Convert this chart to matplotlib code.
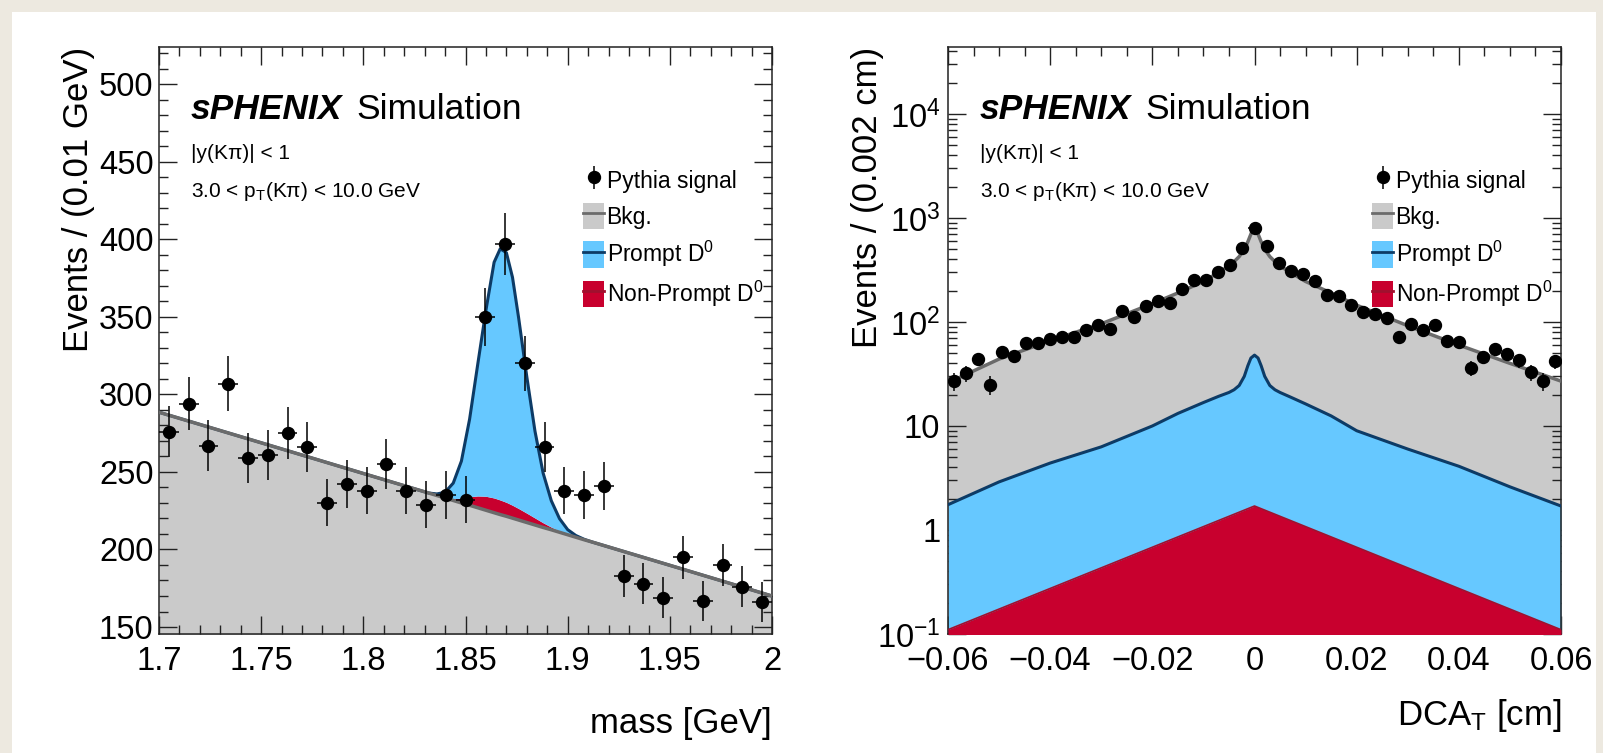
import numpy as np
import matplotlib
matplotlib.use("Agg")
import matplotlib.pyplot as plt
from matplotlib.patches import Patch, Rectangle
from matplotlib.lines import Line2D
from matplotlib.legend_handler import HandlerTuple
from matplotlib.ticker import MultipleLocator, FuncFormatter, LogLocator, NullFormatter

plt.rcParams['font.family'] = ['Liberation Sans', 'DejaVu Sans']
plt.rcParams['mathtext.fontset'] = 'custom'
plt.rcParams['mathtext.rm'] = 'Liberation Sans'
plt.rcParams['mathtext.it'] = 'Liberation Sans:italic'
plt.rcParams['mathtext.bf'] = 'Liberation Sans:bold'
plt.rcParams['mathtext.default'] = 'regular'

#------------------------------------------------------------------------------
# Data: invariant mass panel
#------------------------------------------------------------------------------
mass_range = (1.7, 2.0)
mass_counts = [276, 294, 267, 307, 259, 261, 275, 266, 230, 242, 238, 255, 238, 229, 235, 232,
               350, 397, 320, 266, 238, 235, 241, 183, 178, 169, 195, 167, 190, 176, 166]

mass_curve = [1.700, 1.750, 1.800, 1.832, 1.836, 1.840, 1.844, 1.848, 1.852, 1.856, 1.860, 1.864,
              1.867, 1.870, 1.873, 1.876, 1.880, 1.884, 1.888, 1.892, 1.896, 1.900, 1.904, 1.908,
              1.912, 1.950, 2.000]
mass_bkg = [288.5, 268.8, 249.0, 236.4, 234.8, 233.2, 231.6, 230.0, 228.5, 226.9, 225.3, 223.7,
            222.5, 221.4, 220.2, 219.0, 217.4, 215.8, 214.2, 212.7, 211.1, 209.5, 207.9, 206.3,
            204.8, 189.8, 170.0]
mass_nonprompt = [0, 0, 0, 0, 0, 0.2, 1.2, 3.0, 5.5, 7.6, 9.0, 9.5,
                  9.4, 9.0, 8.3, 7.4, 6.0, 4.5, 3.0, 1.7, 0.8, 0.3, 0.1, 0,
                  0, 0, 0]
mass_prompt = [0, 0, 0, 0, 1, 3.5, 10, 24, 50, 85, 120, 152,
               162, 161, 147, 123, 88, 56, 32, 17, 8, 3, 1, 0.3,
               0, 0, 0]

#------------------------------------------------------------------------------
# Data: DCA_T panel
#------------------------------------------------------------------------------
dca_range = (-0.06, 0.06)
dca_counts = [27, 32, 44, 25, 51, 47, 63, 63, 68, 71, 71, 84, 94, 86, 127, 111, 141, 160, 152, 207,
              253, 253, 303, 352, 515, 796, 537, 367, 306, 287, 245, 182, 176, 144, 125, 120, 108,
              71, 96, 83, 93, 66, 64, 36, 46, 55, 49, 43, 33, 27, 42]

dca_curve = [-0.06, -0.05, -0.04, -0.03, -0.02, -0.015, -0.01, -0.007, -0.005, -0.004, -0.003,
             -0.002, -0.0013, -0.0007, 0.0, 0.0007, 0.0013, 0.002, 0.003, 0.004, 0.005, 0.007,
             0.01, 0.015, 0.02, 0.03, 0.04, 0.05, 0.06]
dca_total = [26, 44, 66, 96, 150, 190, 245, 300, 345, 380, 425,
             500, 590, 700, 830, 700, 590, 500, 425, 380, 345, 300,
             245, 190, 145, 92, 60, 40, 27]
dca_prompt = [1.75, 2.9, 4.4, 6.3, 10, 13.2, 16.8, 19.3, 21, 22.3, 24.5,
              30, 38, 45, 48, 45, 38, 30, 24.5, 22.3, 21, 19,
              16.3, 12.5, 9, 6, 4.1, 2.6, 1.7]
dca_np_x = [-0.06, 0.0, 0.06]
dca_nonprompt = [0.11, 1.7, 0.11]

# colours
c_gray, c_gray_line = '#CACACA', '#6B6B6B'
c_blue, c_navy = '#66C8FF', '#0D3B66'
c_red, c_red_line = '#C8002E', '#A0102E'

#------------------------------------------------------------------------------
# Figure
#------------------------------------------------------------------------------
W, H = 1603, 753
fig = plt.figure(figsize=(W / 100, H / 100), dpi=100)
fig.patch.set_facecolor('#EDE9E0')
fig.add_artist(Rectangle((12 / W, 0), (1596 - 12) / W, (H - 12) / H, transform=fig.transFigure,
                         facecolor='white', edgecolor='none', zorder=-5))

ax1 = fig.add_axes([159 / W, 1 - 634 / H, 613 / W, 587 / H])
ax2 = fig.add_axes([948 / W, 1 - 634 / H, 613 / W, 587 / H])

def style_axes(ax):
    for s in ax.spines.values():
        s.set_linewidth(1.1)
        s.set_color('#222222')
    ax.tick_params(which='both', direction='in', top=True, right=True, width=1.0,
                   color='#222222', labelsize=23.5)
    ax.tick_params(which='major', length=13)
    ax.tick_params(which='minor', length=6.5)
    ax.tick_params(axis='x', pad=9)
    ax.tick_params(axis='y', pad=4)

def draw_data(ax, edges, counts):
    centers = 0.5 * (edges[1:] + edges[:-1])
    half = 0.5 * (edges[1] - edges[0])
    counts = np.array(counts, dtype=float)
    ax.errorbar(centers, counts, xerr=half, yerr=np.sqrt(counts), fmt='o', color='black',
                markersize=8.6, elinewidth=1.1, capsize=0, zorder=10)

def add_labels(ax):
    ax.text(0.0515, 0.878, 'sPHENIX', transform=ax.transAxes, fontsize=25.5,
            fontweight='bold', fontstyle='italic', va='baseline')
    ax.text(0.322, 0.878, 'Simulation', transform=ax.transAxes, fontsize=25.5, va='baseline')
    ax.text(0.0515, 0.810, '|y(K\u03c0)| < 1', transform=ax.transAxes, fontsize=15,
            va='baseline')
    ax.text(0.0515, 0.745, '3.0 < p$_{T}$(K\u03c0) < 10.0 GeV', transform=ax.transAxes,
            fontsize=15, va='baseline')

    h_data = ax.errorbar([np.nan], [np.nan], yerr=[1.0], fmt='o', color='black',
                         markersize=8.6, elinewidth=1.1, capsize=0)
    handles = [h_data,
               (Patch(facecolor=c_gray, edgecolor='none'), Line2D([], [], color=c_gray_line, lw=2)),
               (Patch(facecolor=c_blue, edgecolor='none'), Line2D([], [], color=c_navy, lw=2)),
               (Patch(facecolor=c_red, edgecolor='none'), Line2D([], [], color=c_red_line, lw=2))]
    labels = ['Pythia signal', 'Bkg.', 'Prompt D$^{0}$', 'Non-Prompt D$^{0}$']
    ax.legend(handles, labels, handler_map={tuple: HandlerTuple(ndivide=1)},
              loc='upper left', bbox_to_anchor=(0.692, 0.796), frameon=False, fontsize=16.5,
              handlelength=0.9, handleheight=1.4, labelspacing=0.42, handletextpad=0.12,
              borderpad=0, borderaxespad=0)

#------------------------------------------------------------------------------
# Left: mass
#------------------------------------------------------------------------------
mass_bkg_a = np.array(mass_bkg)
mass_np_top = mass_bkg_a + np.array(mass_nonprompt)
mass_total = mass_np_top + np.array(mass_prompt)

ax1.fill_between(mass_curve, 0, mass_bkg_a, color=c_gray, lw=0, zorder=1)
ax1.fill_between(mass_curve, mass_bkg_a, mass_np_top, color=c_red, lw=0, zorder=2)
ax1.fill_between(mass_curve, mass_np_top, mass_total, color=c_blue, lw=0, zorder=2)
ax1.plot(mass_curve, mass_total, color=c_navy, lw=2.2, zorder=3)
ax1.plot(mass_curve, mass_bkg_a, color=c_gray_line, lw=2.5, zorder=4)

mass_edges = np.linspace(mass_range[0], mass_range[1], len(mass_counts) + 1)
draw_data(ax1, mass_edges, mass_counts)

ax1.set_xlim(*mass_range)
ax1.set_ylim(145.5, 524)
ax1.xaxis.set_major_locator(MultipleLocator(0.05))
ax1.xaxis.set_minor_locator(MultipleLocator(0.01))
ax1.yaxis.set_major_locator(MultipleLocator(50))
ax1.yaxis.set_minor_locator(MultipleLocator(10))
ax1.xaxis.set_major_formatter(FuncFormatter(lambda v, p: f'{v:g}'))
style_axes(ax1)

ax1.set_xlabel('mass [GeV]', fontsize=25, loc='right')
ax1.xaxis.set_label_coords(1.0, -0.168)
ax1.xaxis.label.set_verticalalignment('baseline')
ax1.set_ylabel('Events / (0.01 GeV)', fontsize=25, loc='top')
ax1.yaxis.set_label_coords(-0.104, 1.0)
add_labels(ax1)

#------------------------------------------------------------------------------
# Right: DCA_T
#------------------------------------------------------------------------------
ax2.set_yscale('log')
ax2.fill_between(dca_curve, 1e-3, dca_total, color=c_gray, lw=0, zorder=1)
ax2.fill_between(dca_curve, 1e-3, dca_prompt, color=c_blue, lw=0, zorder=2)
ax2.plot(dca_curve, dca_prompt, color=c_navy, lw=2.2, zorder=3)
ax2.fill_between(dca_np_x, 1e-3, dca_nonprompt, color=c_red, lw=0, zorder=3)
ax2.plot(dca_np_x, dca_nonprompt, color=c_red_line, lw=1.2, zorder=3)
ax2.plot(dca_curve, dca_total, color=c_gray_line, lw=2.5, zorder=4)

dca_edges = np.linspace(dca_range[0], dca_range[1], len(dca_counts) + 1)
draw_data(ax2, dca_edges, dca_counts)

ax2.set_xlim(*dca_range)
ax2.set_ylim(0.1, 44000)
ax2.xaxis.set_major_locator(MultipleLocator(0.02))
ax2.xaxis.set_minor_locator(MultipleLocator(0.005))
ax2.xaxis.set_major_formatter(FuncFormatter(
    lambda v, p: f'{round(v, 4):g}'.replace('-', '\u2212') if abs(v) > 1e-9 else '0'))
ax2.yaxis.set_major_locator(LogLocator(base=10, numticks=10))
ax2.yaxis.set_minor_locator(LogLocator(base=10, subs=np.arange(2, 10), numticks=12))
ax2.yaxis.set_minor_formatter(NullFormatter())

def log_label(v, pos):
    e = int(round(np.log10(v)))
    if e == 0:
        return '1'
    if e == 1:
        return '10'
    return '$10^{%d}$' % e

ax2.yaxis.set_major_formatter(FuncFormatter(log_label))
style_axes(ax2)
ax2.tick_params(axis='y', pad=5.5)

ax2.set_xlabel('DCA$_{T}$ [cm]', fontsize=25, loc='right')
ax2.xaxis.set_label_coords(1.0, -0.155)
ax2.xaxis.label.set_verticalalignment('baseline')
ax2.set_ylabel('Events / (0.002 cm)', fontsize=25, loc='top')
ax2.yaxis.set_label_coords(-0.104, 1.0)
add_labels(ax2)

fig.savefig('out.png', dpi=100, facecolor=fig.get_facecolor())
